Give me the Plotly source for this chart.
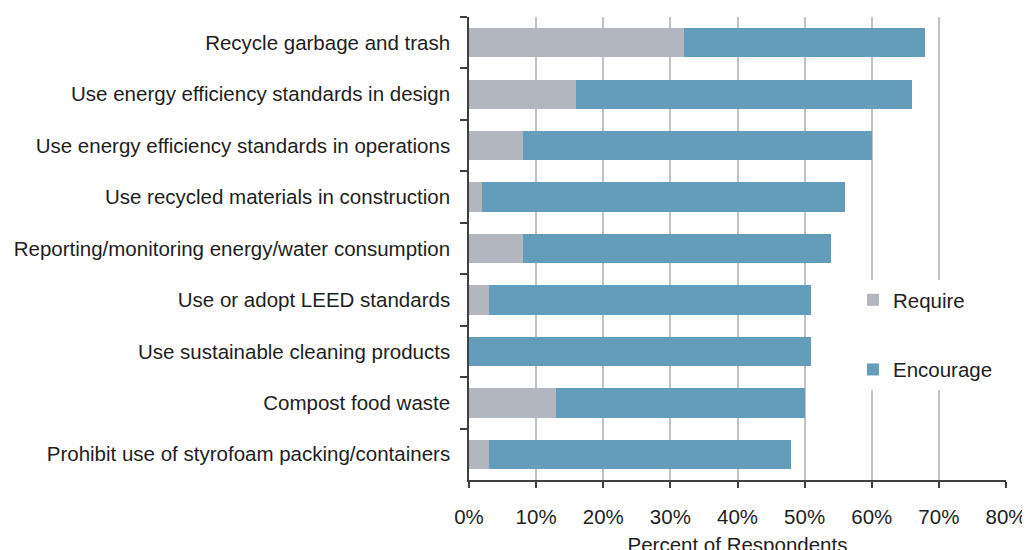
import plotly.graph_objects as go

categories = [
    "Recycle garbage and trash",
    "Use energy efficiency standards in design",
    "Use energy efficiency standards in operations",
    "Use recycled materials in construction",
    "Reporting/monitoring energy/water consumption",
    "Use or adopt LEED standards",
    "Use sustainable cleaning products",
    "Compost food waste",
    "Prohibit use of styrofoam packing/containers",
]
require = [32, 16, 8, 2, 8, 3, 0, 13, 3]
encourage = [36, 50, 52, 54, 46, 48, 51, 37, 45]
x_ticks = [0, 10, 20, 30, 40, 50, 60, 70, 80]
x_tick_labels = [f"{v}%" for v in x_ticks]

FONT = "Liberation Sans, Arial, sans-serif"
FS = 20.5
TXT = "#1e1e1e"

fig = go.Figure()
fig.add_trace(go.Bar(
    y=categories, x=require, orientation="h", name="Require",
    marker=dict(color="#b2b6be", line=dict(width=0)),
    legendgroup="req",
))
fig.add_trace(go.Bar(
    y=categories, x=encourage, orientation="h", name="Encourage",
    marker=dict(color="#649db9", line=dict(width=0)),
    legendgroup="enc",
))

# white backdrop behind the legend (hides gridlines, like the reference)
fig.add_shape(
    type="rect", xref="paper", yref="paper",
    x0=0.715, x1=0.965, y0=0.168, y1=0.462,
    fillcolor="white", line=dict(width=0), layer="between",
)

fig.update_layout(
    width=1030, height=550,
    barmode="stack", bargap=0.43,
    plot_bgcolor="white", paper_bgcolor="white",
    margin=dict(l=461, r=32, t=9, b=78),
    font=dict(family=FONT, size=FS, color=TXT),
    legend=dict(
        x=0.715, y=0.432, xanchor="left", yanchor="top",
        bgcolor="white", traceorder="grouped", tracegroupgap=40,
        font=dict(size=FS, color=TXT),
        itemwidth=30,
    ),
    xaxis=dict(
        range=[0, 80], tickvals=x_ticks, ticktext=x_tick_labels,
        showgrid=True, gridcolor="#c2c2ca", gridwidth=1.5,
        showline=True, linecolor="#404040", linewidth=1.5,
        ticks="outside", ticklen=6, tickcolor="#404040", tickwidth=1.5,
        zeroline=False,
        ticklabelstandoff=12,
        title=dict(text="Percent of Respondents", standoff=10,
                   font=dict(size=FS, color=TXT)),
        tickfont=dict(size=FS, color=TXT),
        automargin=False,
    ),
    yaxis=dict(
        autorange="reversed", type="category",
        showline=True, linecolor="#404040", linewidth=1.5,
        ticks="outside", ticklen=7, tickcolor="#404040", tickwidth=1.5,
        tickson="boundaries", showgrid=False,
        tickfont=dict(size=FS, color=TXT),
        ticklabelstandoff=13,
        automargin=False,
    ),
)

fig.write_html("out.html")
